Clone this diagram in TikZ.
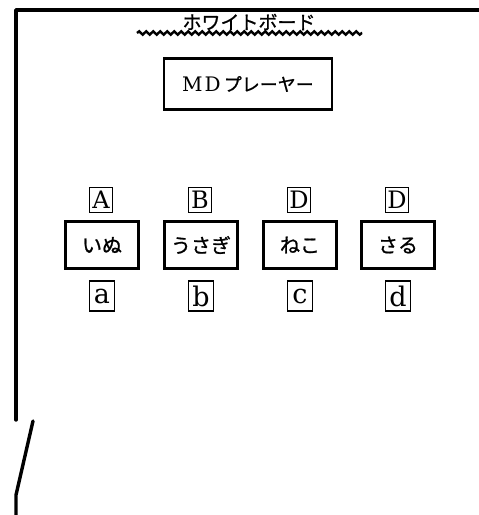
\documentclass[tikz,border=0pt]{standalone}
\usepackage{fontspec}
\newfontfamily\jp[FakeBold=1]{Noto Sans CJK JP}
\newfontfamily\lat{DejaVu Serif}
\usetikzlibrary{decorations.pathmorphing}
\tikzset{
  wall/.style={line width=3.4pt, line cap=round, line join=round},
  animal/.style={draw, line width=3pt, minimum width=73pt, minimum height=47pt, inner sep=0pt, font=\jp\fontsize{20}{20}\selectfont},
  ucbox/.style={draw, line width=1.6pt, minimum width=23pt, minimum height=25pt, inner sep=0pt, font=\lat\fontsize{24}{24}\selectfont},
  lcbox/.style={draw, line width=1.6pt, minimum width=25pt, minimum height=30pt, inner sep=0pt, font=\lat\fontsize{27}{27}\selectfont},
}
\begin{document}
\begin{tikzpicture}[x=1pt,y=-1pt]
\useasboundingbox (0,0) rectangle (479,515);
% walls
\draw[wall] (16,420) -- (16,10) -- (479,10);
\draw[wall] (33,421) -- (16,495) -- (16,515);
% title
\node[font=\jp\fontsize{19}{19}\selectfont, inner sep=0pt] (title) at (249,22) {ホワイトボード};
\draw[line width=2.4pt, decorate, decoration={snake, amplitude=1.7pt, segment length=7pt}] (137,33) -- (362,33);
% MD player
\node[draw, line width=2.5pt, minimum width=168pt, minimum height=51pt, inner sep=0pt] (md) at (248,84)
  {\lat\fontsize{20}{20}\selectfont M\kern2pt D\kern3pt\jp\fontsize{18}{18}\selectfont プレーヤー};
% upper letters
\node[ucbox] (A) at (101,200) {A};
\node[ucbox] (B) at (200,200) {B};
\node[ucbox] (D1) at (299,200) {D};
\node[ucbox] (D2) at (397,200) {D};
% animals
\node[animal] (inu) at (102,245) {いぬ};
\node[animal] (usagi) at (201,245) {うさぎ};
\node[animal] (neko) at (300,245) {ねこ};
\node[animal] (saru) at (398,245) {さる};
% lower letters
\node[lcbox] (la) at (102,296) {a};
\node[lcbox] (lb) at (201,296) {b};
\node[lcbox] (lc) at (300,296) {c};
\node[lcbox] (ld) at (398,296) {d};
\end{tikzpicture}
\end{document}
